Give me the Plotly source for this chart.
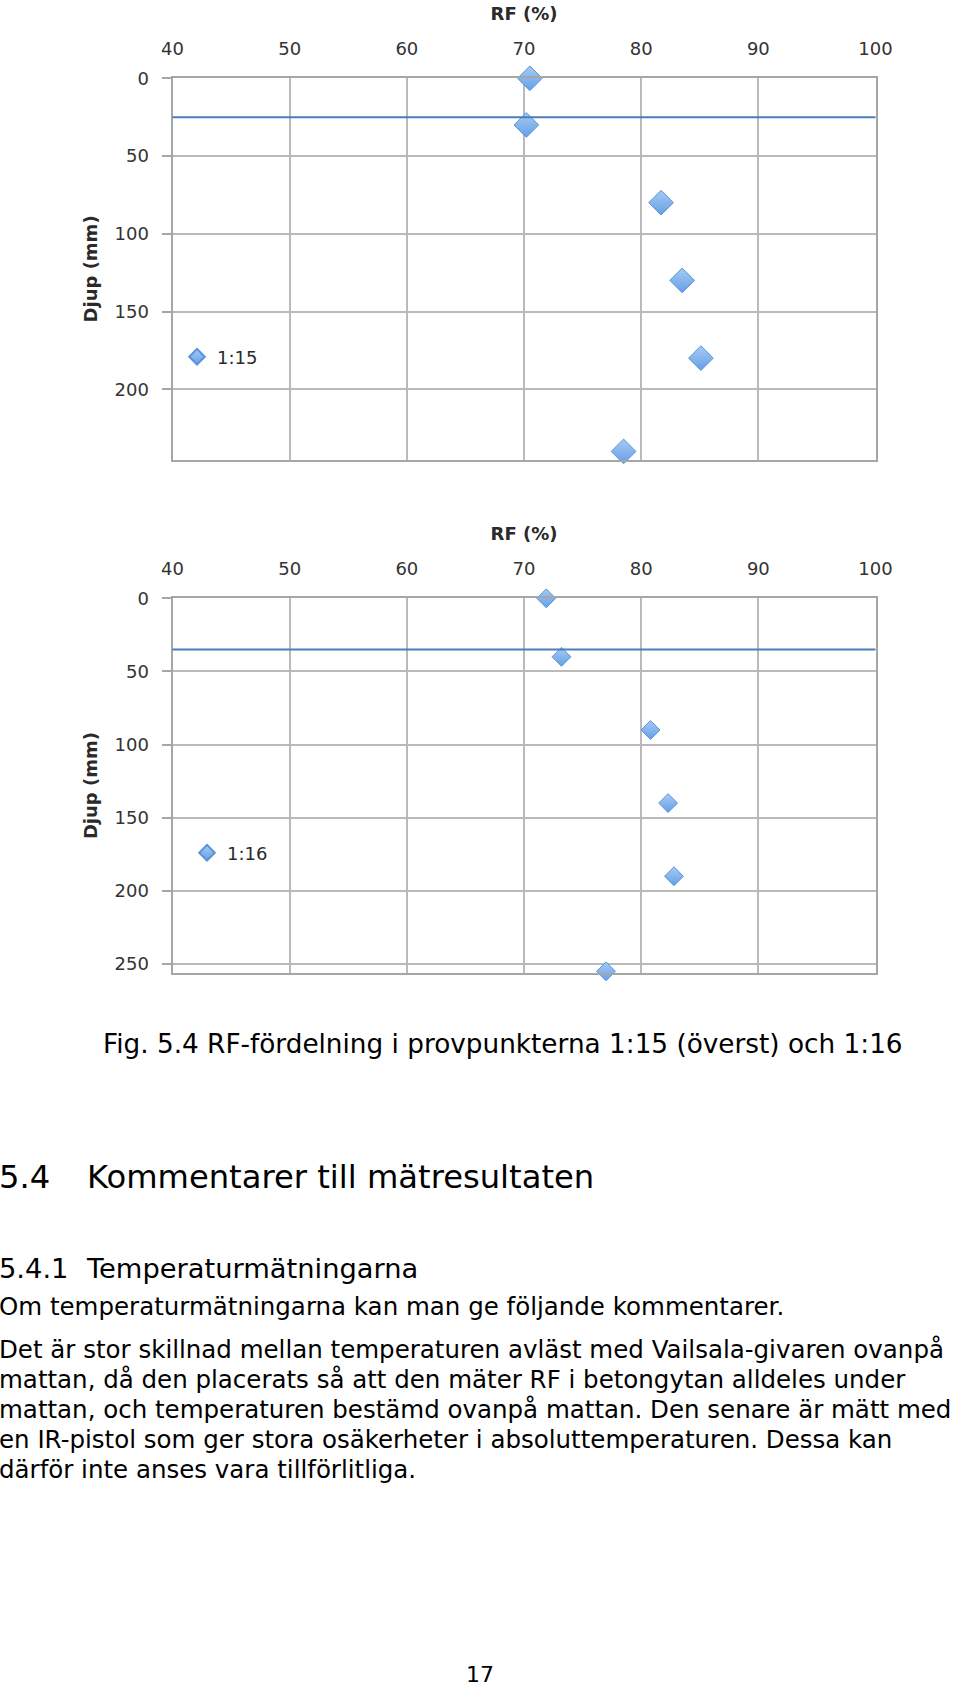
import plotly.graph_objects as go

# ---------------- data ----------------
series_names = ["1:15", "1:16"]
rf_top = [70.5, 70.2, 81.7, 83.5, 85.1, 78.5]
depth_top = [0, 30, 80, 130, 180, 240]
rf_bottom = [71.9, 73.2, 80.8, 82.3, 82.8, 77.0]
depth_bottom = [0, 40, 90, 140, 190, 255]
boundary_depths = [25, 35]
x_ticks = [40, 50, 60, 70, 80, 90, 100]
y_ticks_top = [0, 50, 100, 150, 200]
y_ticks_bottom = [0, 50, 100, 150, 200, 250]

caption = "Fig. 5.4 RF-fördelning i provpunkterna 1:15 (överst) och 1:16"
heading_num, heading_txt = "5.4", "Kommentarer till mätresultaten"
sub_num, sub_txt = "5.4.1", "Temperaturmätningarna"
intro = "Om temperaturmätningarna kan man ge följande kommentarer."
paragraph = [
    "Det är stor skillnad mellan temperaturen avläst med Vailsala-givaren ovanpå",
    "mattan, då den placerats så att den mäter RF i betongytan alldeles under",
    "mattan, och temperaturen bestämd ovanpå mattan. Den senare är mätt med",
    "en IR-pistol som ger stora osäkerheter i absoluttemperaturen. Dessa kan",
    "därför inte anses vara tillförlitliga.",
]
page_no = "17"

# ---------------- layout helpers ----------------
W, H = 960, 1688
def px(x):
    return x / W
def py(y):
    return 1 - y / H

GRID = "#bababa"
AXLINE = "#a6a6a6"
TICKFONT = dict(family="DejaVu Sans", size=18, color="#333333")
TITLEFONT = dict(family="DejaVu Sans", size=18, color="#2a2a2a", weight="bold")
TEXTFONT = "DejaVu Sans"

marker_top = dict(symbol="diamond", size=19, color="#a6cbf4",
                  gradient=dict(type="vertical", color="#659fe6"),
                  line=dict(color="#5a93d8", width=1))
marker_bottom = dict(marker_top, size=14.5)

fig = go.Figure()
fig.add_trace(go.Scatter(x=rf_top, y=depth_top, mode="markers", name=series_names[0],
                         xaxis="x", yaxis="y", legend="legend",
                         marker=marker_top, cliponaxis=False))
fig.add_trace(go.Scatter(x=rf_bottom, y=depth_bottom, mode="markers", name=series_names[1],
                         xaxis="x2", yaxis="y2", legend="legend2",
                         marker=marker_bottom, cliponaxis=False))

for yref, xref, d in (("y", "x", boundary_depths[0]), ("y2", "x2", boundary_depths[1])):
    fig.add_shape(type="line", xref=f"{xref} domain", x0=0, x1=1, yref=yref, y0=d, y1=d,
                  line=dict(color="#4a7dbb", width=2), layer="above")

def xaxis_cfg(anchor, domain):
    return dict(domain=domain, anchor=anchor, side="top", range=[40, 100],
                tickvals=x_ticks, showgrid=True, gridcolor=GRID, gridwidth=2,
                showline=True, linecolor=AXLINE, linewidth=2, mirror=True,
                ticks="", zeroline=False, tickfont=TICKFONT, ticklabelstandoff=14,
                title=dict(text="RF (%)", font=TITLEFONT, standoff=13))

def yaxis_cfg(anchor, domain, rng, tickvals):
    return dict(domain=domain, anchor=anchor, range=rng, tickvals=tickvals,
                showgrid=True, gridcolor=GRID, gridwidth=2,
                showline=True, linecolor=AXLINE, linewidth=2, mirror=True,
                ticks="outside", ticklen=9, tickwidth=2, tickcolor=AXLINE,
                zeroline=False, tickfont=TICKFONT, ticklabelstandoff=9,
                title=dict(text="Djup (mm)", font=TITLEFONT, standoff=12))

xdom = [px(172.5), px(875.5)]
fig.update_layout(
    width=W, height=H, margin=dict(l=0, r=0, t=0, b=0, pad=0, autoexpand=False),
    paper_bgcolor="white", plot_bgcolor="white",
    xaxis=xaxis_cfg("y", xdom),
    yaxis=yaxis_cfg("x", [py(459.5), py(78.3)], [245.2, 0], y_ticks_top),
    xaxis2=xaxis_cfg("y2", xdom),
    yaxis2=yaxis_cfg("x2", [py(972.8), py(598.3)], [256, 0], y_ticks_bottom),
    legend=dict(x=px(177), y=py(357), xanchor="left", yanchor="middle",
                font=dict(family="DejaVu Sans", size=18, color="#2a2a2a"),
                itemsizing="constant", bgcolor="rgba(0,0,0,0)"),
    legend2=dict(x=px(187), y=py(853), xanchor="left", yanchor="middle",
                 font=dict(family="DejaVu Sans", size=18, color="#2a2a2a"),
                 itemsizing="constant", bgcolor="rgba(0,0,0,0)"),
    showlegend=True,
)

def text(x, yc, s, size, xanchor="left"):
    fig.add_annotation(x=px(x), y=py(yc), xref="paper", yref="paper", text=s,
                       showarrow=False, xanchor=xanchor, yanchor="middle",
                       font=dict(family=TEXTFONT, size=size, color="black"),
                       borderpad=0, borderwidth=0)

text(103, 1044, caption, 26.3)
text(-1, 1177, heading_num, 32.2)
text(87, 1177, heading_txt, 32.2)
text(-1, 1268, sub_num, 27.3)
text(86, 1268, sub_txt, 27.3)
text(-1, 1306.5, intro, 24.5)
for i, line in enumerate(paragraph):
    text(-1, 1349.5 + 30 * i, line, 24.5)
text(480, 1674, page_no, 22, xanchor="center")

fig.write_html("out.html")
